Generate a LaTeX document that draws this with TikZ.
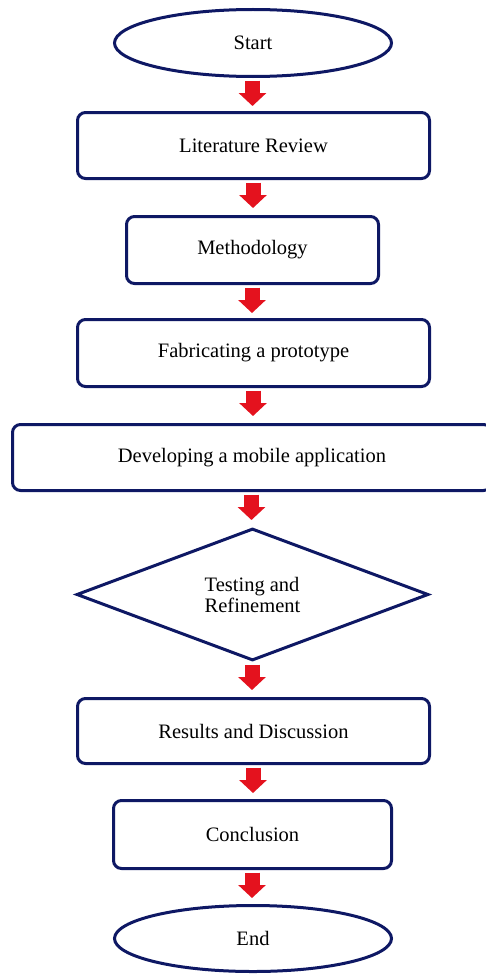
\documentclass[tikz,border=0pt]{standalone}
\usepackage{fontspec}
\setmainfont{Liberation Serif}
\newfontfamily\tnr{Liberation Serif}
\usetikzlibrary{shapes.geometric,arrows.meta,calc}
\definecolor{navy}{RGB}{14,24,100}
\definecolor{arrred}{RGB}{228,18,30}
\begin{document}
\begin{tikzpicture}[x=1pt,y=-1pt,
  txt/.style={font=\tnr\fontsize{20.5}{21}\selectfont},
  box/.style={txt,draw=navy,line width=3pt,rounded corners=8pt,fill=white,inner sep=0pt},
  term/.style={txt,draw=navy,line width=3pt,ellipse,inner sep=0pt,fill=white},
  decision/.style={txt,draw=navy,line width=3pt,diamond,aspect=2.63,inner sep=0pt,align=left,fill=white},
  barrow/.style={draw=arrred,line width=15pt,-{Triangle[width=27pt,length=13pt]}}]
\useasboundingbox (0,0) rectangle (485,974);
\node[term,minimum width=277pt,minimum height=67pt] (start) at (253,43) {Start};
\node[box,minimum width=352pt,minimum height=66pt] (lit) at (253.5,145.5) {Literature Review};
\node[box,minimum width=252pt,minimum height=67pt] (meth) at (252.5,250) {Methodology};
\node[box,minimum width=352pt,minimum height=67pt] (fab) at (253.5,353) {Fabricating a prototype};
\node[box,minimum width=479pt,minimum height=66pt] (dev) at (252,457.5) {Developing a mobile application};
\node[decision,minimum width=352pt,minimum height=132pt] (test) at (252.5,594.5) {Testing and\\Refinement};
\node[box,minimum width=352pt,minimum height=65pt] (res) at (253.5,731) {Results and Discussion};
\node[box,minimum width=278pt,minimum height=68pt] (conc) at (252.5,834.5) {Conclusion};
\node[term,minimum width=277pt,minimum height=66pt] (end) at (253,938.5) {End};
\foreach \a in {start,lit,meth,fab,dev,test,res,conc}{
  \draw[barrow] ($(\a.south)+(-0.5,2.5)$) -- ++(0,25.5);
}
\end{tikzpicture}
\end{document}
